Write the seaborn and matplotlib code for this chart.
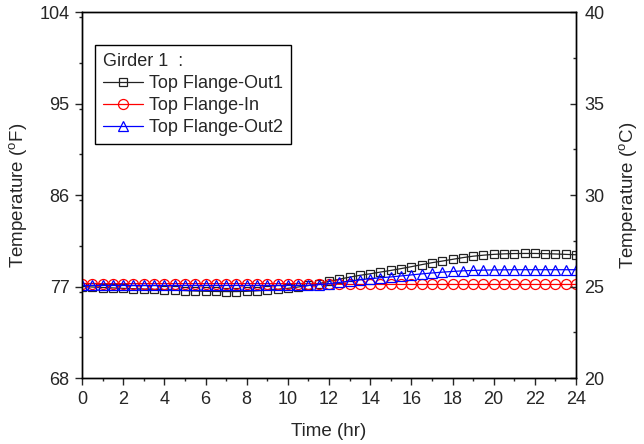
import numpy as np
import pandas as pd
import matplotlib
matplotlib.use("Agg")
import matplotlib.pyplot as plt
from matplotlib.ticker import MultipleLocator
import seaborn as sns

time_hr = [i * 0.5 for i in range(49)]

out1 = [77.00, 76.95, 76.90, 76.86, 76.82, 76.78, 76.75, 76.72, 76.68, 76.65,
        76.60, 76.56, 76.53, 76.51, 76.50, 76.50, 76.53, 76.58, 76.65, 76.72,
        76.82, 76.95, 77.10, 77.28, 77.50, 77.72, 77.92, 78.10, 78.25, 78.42,
        78.58, 78.76, 78.95, 79.15, 79.34, 79.50, 79.67, 79.84, 79.98, 80.08,
        80.16, 80.21, 80.24, 80.25, 80.25, 80.23, 80.20, 80.16, 80.12]
flange_in = [77.28] * 23 + [77.26, 77.24, 77.22] + [77.20] * 23
out2 = [77.10] * 23 + [77.18, 77.28, 77.40, 77.53, 77.66, 77.77, 77.86,
        77.94, 78.04, 78.14, 78.24, 78.33, 78.41, 78.48, 78.54, 78.58, 78.61,
        78.63, 78.64, 78.65, 78.65, 78.65, 78.65, 78.65, 78.65, 78.65]

series_names = ["Top Flange-Out1", "Top Flange-In", "Top Flange-Out2"]
series_vals = [out1, flange_in, out2]
colors = ["#222222", "#ff0000", "#0000ff"]
markers = ["s", "o", "^"]
msizes = [5.2, 7.2, 7.4]

left_ticks = [68, 77, 86, 95, 104]
right_ticks = [20, 25, 30, 35, 40]
x_ticks = list(range(0, 25, 2))

sns.set_style("ticks")
plt.rcParams["font.family"] = ["Liberation Sans", "DejaVu Sans"]
plt.rcParams["mathtext.fontset"] = "custom"
plt.rcParams["mathtext.rm"] = "Liberation Sans"
plt.rcParams["axes.linewidth"] = 1.0

fig = plt.figure(figsize=(6.44, 4.44), dpi=100)
ax = fig.add_axes([82 / 644, 1 - 378 / 444, 494 / 644, 366 / 444])

for name, vals, c, m, ms in zip(series_names, series_vals, colors, markers, msizes):
    df = pd.DataFrame({"t": time_hr, "v": vals})
    sns.lineplot(data=df, x="t", y="v", ax=ax, color=c, marker=m, markersize=ms,
                 markerfacecolor="none", markeredgecolor=c, markeredgewidth=0.9,
                 linewidth=0.9, label=name, zorder=3)

ax.set_xlim(0, 24)
ax.set_ylim(68, 104)
ax.set_xticks(x_ticks)
ax.set_yticks(left_ticks)
ax.xaxis.set_minor_locator(MultipleLocator(1))
ax.yaxis.set_minor_locator(MultipleLocator(4.5))
ax.tick_params(axis="x", which="major", direction="out", length=5, width=1,
               labelsize=13, pad=4, top=False)
ax.tick_params(axis="x", which="minor", direction="out", length=2.5, width=1, top=False)
ax.tick_params(axis="y", which="major", direction="out", length=5, width=1,
               labelsize=13, pad=4, right=False)
ax.tick_params(axis="y", which="minor", direction="out", length=2.5, width=1, right=False)
ax.set_xlabel("Time (hr)", fontsize=13.5, labelpad=11)
ax.set_ylabel("Temperature ($^{\\rm o}$F)", fontsize=13.5, labelpad=7)
for s in ax.spines.values():
    s.set_visible(True)
    s.set_color("black")

ax2 = ax.twinx()
ax2.set_ylim(20, 40)
ax2.set_yticks(right_ticks)
ax2.yaxis.set_minor_locator(MultipleLocator(2.5))
ax2.tick_params(axis="y", which="major", direction="in", length=4.5, width=1,
                labelsize=13, pad=6)
ax2.tick_params(axis="y", which="minor", direction="in", length=2.5, width=1)
ax2.set_ylabel("Temperature ($^{\\rm o}$C)", fontsize=13.5, labelpad=9)
for s in ax2.spines.values():
    s.set_color("black")

leg = ax.legend(title="Girder 1  :", loc="upper left",
                bbox_to_anchor=((94.7 - 82) / 494, (378 - 44.7) / 366),
                borderaxespad=0, fontsize=13, title_fontsize=13,
                frameon=True, fancybox=False, edgecolor="black", framealpha=1,
                handlelength=2.2, handletextpad=0.33, labelspacing=0.28,
                borderpad=0.45, alignment="left")
leg.get_frame().set_linewidth(1.0)

fig.savefig("out.png", dpi=100)
